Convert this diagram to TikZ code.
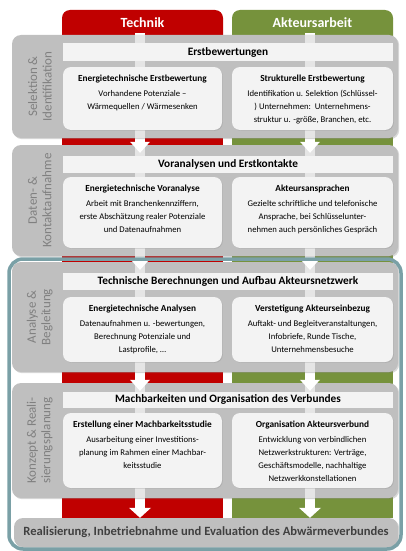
\documentclass[tikz,border=0pt]{standalone}
\usepackage{fontspec}
\setmainfont{Carlito}
\usetikzlibrary{positioning,calc,shadows}

\definecolor{technikred}{RGB}{192,0,0}
\definecolor{akteurgreen}{RGB}{118,146,60}
\definecolor{phasegray}{RGB}{191,191,191}
\definecolor{boxwhite}{RGB}{243,243,243}
\definecolor{framebl}{RGB}{122,160,166}
\definecolor{labelgray}{RGB}{128,128,128}
\definecolor{fintext}{RGB}{64,64,64}

\newcommand\subtitlefont{\bfseries\fontsize{9.3}{13}\selectfont}

\begin{document}
\begin{tikzpicture}[x=1pt,y=-1pt,
    phase/.style={rectangle,rounded corners=9pt,fill=phasegray,minimum width=386pt,
        drop shadow={opacity=.3,shadow xshift=1.2pt,shadow yshift=-1.2pt}},
    head/.style={rectangle,fill=boxwhite,minimum width=330pt,inner sep=0pt,
        font=\bfseries\fontsize{11.3}{12}\selectfont},
    subbox/.style={rectangle,rounded corners=8pt,fill=boxwhite,
        drop shadow={opacity=.25,shadow xshift=.8pt,shadow yshift=-.8pt}},
    subtext/.style={align=center,inner sep=0pt,font=\fontsize{8.7}{13}\selectfont},
    plabel/.style={rotate=90,align=center,text=labelgray,font=\fontsize{13}{14.5}\selectfont},
    colhead/.style={text=white,font=\bfseries\fontsize{14}{16}\selectfont},
    shaft/.style={fill=white,opacity=.6},
    tip/.style={fill=white}]

\useasboundingbox (0,0) rectangle (405,551);

% columns
\fill[technikred,rounded corners=8pt] (62,10) rectangle (223,60);
\fill[technikred] (62,30) rectangle (223,518);
\fill[akteurgreen,rounded corners=8pt] (232,10) rectangle (393,60);
\fill[akteurgreen] (232,30) rectangle (393,518);
\node[colhead] (tech) at (142.5,23) {Technik};
\node[colhead] (akt) at (312.5,23) {Akteursarbeit};

\coordinate (tl) at (140,33);
\coordinate (ta) at (310,33);
\fill[white] ($(tl)+(-5,0)$) rectangle ($(tl)+(5,475)$);
\fill[white] ($(ta)+(-5,0)$) rectangle ($(ta)+(5,475)$);

% phases
\node[phase,minimum height=103pt] (p1) at (205,86.5) {};
\node[phase,minimum height=111pt] (p2) at (205,200.5) {};
\node[phase,minimum height=110pt] (p3) at (205,317) {};
\node[phase,minimum height=115pt] (p4) at (205,440.5) {};
\node[phase,minimum width=384pt,minimum height=29pt] (fin) at (206,532.5) {};

\foreach \p in {p1,p2,p3,p4}
  \foreach \c in {tl,ta}
    \fill[shaft] ($(\c |- \p.north)+(-5,0)$) rectangle ($(\c |- \p.south)+(5,0)$);

\foreach \p in {p2,p3,p4}
  \foreach \c in {tl,ta}
    \fill[tip] ($(\c |- \p.north)+(-10,-3)$) -- ($(\c |- \p.north)+(10,-3)$)
      -- ($(\c |- \p.north)+(0,8)$) -- cycle;
\foreach \c in {tl,ta}
  \fill[tip] ($(\c |- fin.north)+(-11,-10)$) -- ($(\c |- fin.north)+(11,-10)$)
    -- (\c |- fin.north) -- cycle;

% Selektion
\node[plabel] at ([xshift=28pt]p1.west) {Selektion \&\\Identifikation};
\node[head,minimum height=18pt] (h1) at (228,52) {Erstbewertungen};
\node[subbox,minimum width=159pt,minimum height=63pt] (b1l) at (142.5,98.5) {};
\node[subbox,minimum width=161pt,minimum height=63pt] (b1r) at (312.5,98.5) {};
\node[subtext,below=8pt of b1l.north] {{\subtitlefont Energietechnische Erstbewertung}\\[2pt]
  Vorhandene Potenziale –\\Wärmequellen / Wärmesenken};
\node[subtext,below=8pt of b1r.north] {{\subtitlefont Strukturelle Erstbewertung}\\[2pt]
  Identifikation u. Selektion (Schlüssel-\\) Unternehmen:\ \ Unternehmens-\\struktur u. -größe, Branchen, etc.};

% Daten
\node[plabel] at ([xshift=28pt]p2.west) {Daten- \&\\Kontaktaufnahme};
\node[head,minimum height=17pt] (h2) at (228,164) {Voranalysen und Erstkontakte};
\node[subbox,minimum width=159pt,minimum height=71pt] (b2l) at (142.5,212.5) {};
\node[subbox,minimum width=161pt,minimum height=71pt] (b2r) at (312.5,212.5) {};
\node[subtext,below=8pt of b2l.north] {{\subtitlefont Energietechnische Voranalyse}\\[2pt]
  Arbeit mit Branchenkennziffern,\\erste Abschätzung realer Potenziale\\und Datenaufnahmen};
\node[subtext,below=8pt of b2r.north] {{\subtitlefont Akteursansprachen}\\[2pt]
  Gezielte schriftliche und telefonische\\Ansprache, bei Schlüsselunter-\\nehmen auch persönliches Gespräch};

% Analyse
\node[plabel] at ([xshift=28pt]p3.west) {Analyse \&\\Begleitung};
\node[head,minimum height=17pt] (h3) at (228,281.5) {Technische Berechnungen und Aufbau Akteursnetzwerk};
\node[subbox,minimum width=159pt,minimum height=65pt] (b3l) at (142.5,329.5) {};
\node[subbox,minimum width=161pt,minimum height=65pt] (b3r) at (312.5,329.5) {};
\node[subtext,below=8pt of b3l.north] {{\subtitlefont Energietechnische Analysen}\\[2pt]
  Datenaufnahmen u. -bewertungen,\\Berechnung Potenziale und\\Lastprofile, …};
\node[subtext,below=8pt of b3r.north] {{\subtitlefont Verstetigung Akteurseinbezug}\\[2pt]
  Auftakt- und Begleitveranstaltungen,\\Infobriefe, Runde Tische,\\Unternehmensbesuche};

% Konzept
\node[plabel] at ([xshift=28pt]p4.west) {Konzept \& Reali-\\sierungsplanung};
\node[head,minimum height=16pt] (h4) at (228,399.5) {Machbarkeiten und Organisation des Verbundes};
\node[subbox,minimum width=159pt,minimum height=75pt] (b4l) at (142.5,450.5) {};
\node[subbox,minimum width=161pt,minimum height=75pt] (b4r) at (312.5,450.5) {};
\node[subtext,below=8pt of b4l.north] {{\subtitlefont Erstellung einer Machbarkeitsstudie}\\[2pt]
  Ausarbeitung einer Investitions-\\planung im Rahmen einer Machbar-\\keitsstudie};
\node[subtext,below=8pt of b4r.north] {{\subtitlefont Organisation Akteursverbund}\\[2pt]
  Entwicklung von verbindlichen\\Netzwerkstrukturen: Verträge,\\Geschäftsmodelle, nachhaltige\\Netzwerkkonstellationen};

\node[text=fintext,font=\bfseries\fontsize{12.6}{14}\selectfont] at (fin) {Realisierung, Inbetriebnahme und Evaluation des Abwärmeverbundes};

\draw[framebl,line width=3.5pt,rounded corners=14pt] (9,259) rectangle (401,549);
\end{tikzpicture}
\end{document}
